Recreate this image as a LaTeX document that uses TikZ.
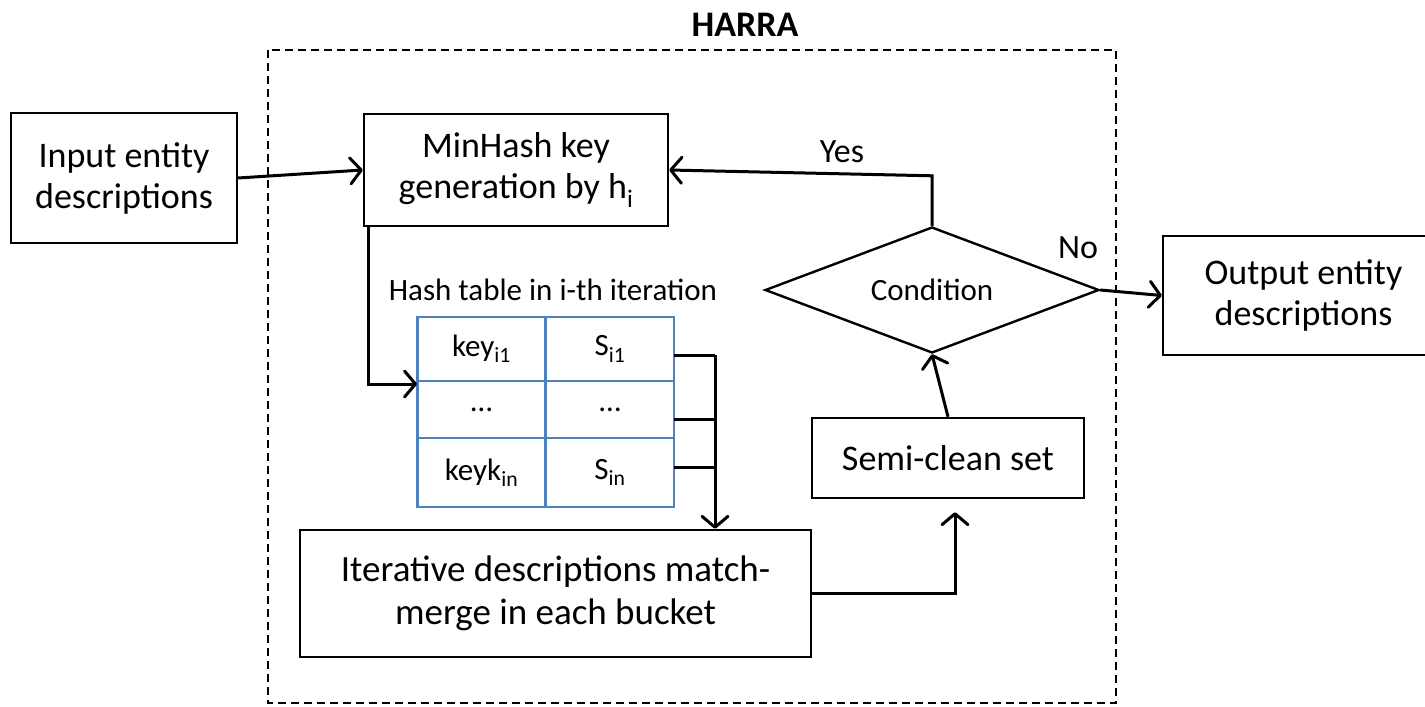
\documentclass[tikz,border=0pt]{standalone}
\usepackage{fontspec}
\setmainfont{Carlito}
\usetikzlibrary{arrows.meta,shapes.geometric,calc}
\definecolor{tblue}{HTML}{4F81BD}
\begin{document}
\begin{tikzpicture}[x=1pt,y=-1pt,
  box/.style={draw,line width=2.4pt,inner sep=0pt,align=center,font=\fontsize{36}{41}\selectfont},
  cell/.style={draw=tblue,line width=2.2pt,inner sep=0pt,minimum width=128pt,font=\fontsize{31}{36}\selectfont},
  arr/.style={line width=3pt,-{Straight Barb[length=11pt,width=26pt,round]}},
  conn/.style={line width=3pt}]
\useasboundingbox (0,0) rectangle (1425,707);
\begin{scope}
\clip (0,0) rectangle (1425,707);
% HARRA dashed region
\draw[line width=2pt,dash pattern=on 8pt off 5pt] (268,50) rectangle (1116,703);
\node[font=\fontsize{36}{42}\selectfont\bfseries] (title) at (745,25) {HARRA};
% boxes
\node[box,minimum width=226pt,minimum height=130pt] (inp) at (124,178) {Input entity\\descriptions};
\node[box,minimum width=304pt,minimum height=112pt] (minh) at (516,170) {MinHash key\\generation by h\textsubscript{i}};
\node[box,minimum width=511pt,minimum height=127pt,font=\fontsize{37}{43}\selectfont] (iter) at (555.5,593.5) {Iterative descriptions match-\\merge in each bucket};
\node[box,minimum width=272pt,minimum height=80pt] (semi) at (948,458) {Semi-clean set};
\node[box,minimum width=281pt,minimum height=119pt] (out) at (1303.5,295.5) {Output entity\\descriptions};
\node[draw,line width=2.4pt,shape=diamond,aspect=2.65,minimum width=334pt,minimum height=126pt,inner sep=0pt,font=\fontsize{31}{36}\selectfont] (cond) at (932,290) {Condition};
% hash table
\node[font=\fontsize{31}{36}\selectfont] (htlabel) at (553,290) {Hash table in i-th iteration};
\node[cell,minimum height=64pt] (c11) at (481.5,349) {key\textsubscript{i1}};
\node[cell,minimum height=64pt] (c12) at (610,349) {S\textsubscript{i1}};
\node[cell,minimum height=57pt] (c21) at (481.5,409.5) {\ldots};
\node[cell,minimum height=57pt] (c22) at (610,409.5) {\ldots};
\node[cell,minimum height=69pt] (c31) at (481.5,472.5) {keyk\textsubscript{in}};
\node[cell,minimum height=69pt] (c32) at (610,472.5) {S\textsubscript{in}};
% connectors
\draw[arr] (inp.east) -- (minh.west);
\coordinate (tin) at (417,384);
\draw[arr] ([xshift=6pt]minh.south west) |- (tin);
\coordinate (r1) at (674,355);
\coordinate (r2) at (674,419);
\coordinate (r3) at (674,467);
\coordinate (bus) at (715,355);
\draw[conn] (r1) -- (bus);
\draw[conn] (r2) -- (r2 -| bus);
\draw[conn] (r3) -- (r3 -| bus);
\draw[arr] (bus) -- (bus |- iter.north);
\coordinate (up) at (955,593);
\draw[arr,shorten >=13pt] (iter.east |- up) -- (up) -- (up |- semi.south);
\draw[arr] (semi.north) -- (cond.south);
\draw[arr] (cond.north) -- ++(0,-50) -- (minh.east);
\draw[arr] (cond.east) -- (out.west);
\node[font=\fontsize{34}{40}\selectfont] (yes) at (842,152) {Yes};
\node[font=\fontsize{34}{40}\selectfont] (no) at (1078,248) {No};
\end{scope}
\end{tikzpicture}
\end{document}
